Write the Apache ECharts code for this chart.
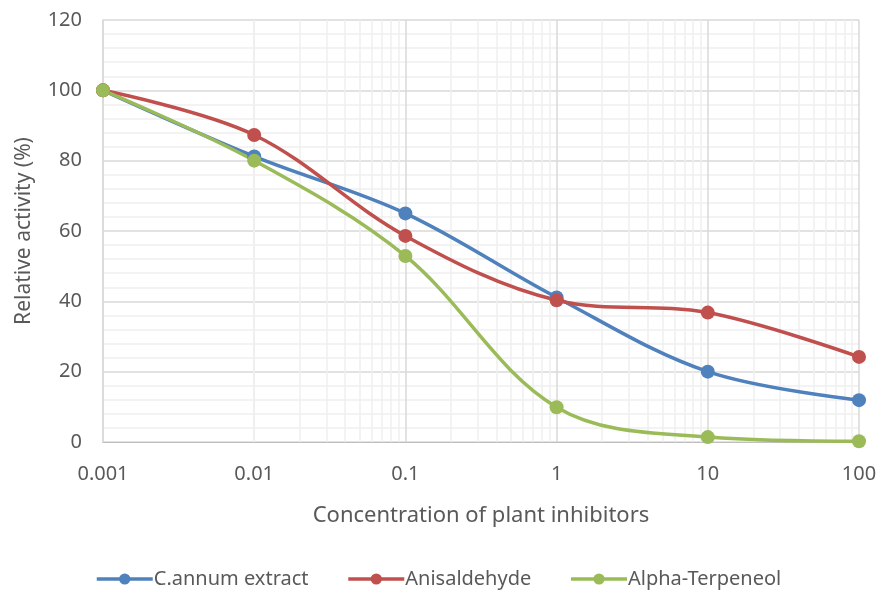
<!DOCTYPE html>
<html><head><meta charset="utf-8">
<script src="https://cdn.jsdelivr.net/npm/echarts@6/dist/echarts.min.js"></script>
<style>html,body{margin:0;padding:0;background:#fff}#c{width:878px;height:594px}</style>
</head><body><div id="c"></div>
<script>
const concentrations = [0.001, 0.01, 0.1, 1, 10, 100];
const xTickLabels = ['0.001', '0.01', '0.1', '1', '10', '100'];
const cannum = [100, 81.2, 65.0, 41.1, 20.0, 11.9];
const anisaldehyde = [100, 87.3, 58.6, 40.3, 36.8, 24.2];
const alphaTerpeneol = [100, 80.0, 52.9, 9.9, 1.4, 0.2];
const seriesNames = ['C.annum extract', 'Anisaldehyde', 'Alpha-Terpeneol'];
const colors = ['#4f81bd', '#c0504d', '#9bbb59'];
const minorX = [];
for (let d = 0; d < 5; d++) for (let m = 2; m <= 9; m++) minorX.push(+(m * Math.pow(10, d - 3)).toPrecision(3));

const font = 'Noto Sans';
function mk(name, vals, color) {
  return {
    name, type: 'line', smooth: 0.35, z: 3,
    data: concentrations.map((c, i) => [c, vals[i]]),
    symbol: 'circle', symbolSize: 14,
    lineStyle: { width: 3.5, color }, itemStyle: { color }
  };
}
const chart = echarts.init(document.getElementById('c'));
chart.setOption({
  animation: false,
  color: colors,
  textStyle: { fontFamily: font },
  grid: { left: 103, right: 19, top: 20, bottom: 152, containLabel: false, outerBoundsMode: 'none' },
  legend: {
    bottom: 0, left: 90, itemGap: 38, itemWidth: 56, itemHeight: 14,
    lineStyle: { width: 3.5 },
    textStyle: { fontFamily: font, fontSize: 20, color: '#595959', padding: [0, 0, 0, -4] },
    data: seriesNames
  },
  xAxis: {
    type: 'log', logBase: 10, min: 0.001, max: 100,
    name: 'Concentration of plant inhibitors', nameLocation: 'middle', nameGap: 63,
    nameTextStyle: { fontFamily: font, fontSize: 22, color: '#595959' },
    axisLine: { show: true, lineStyle: { color: '#bfbfbf', width: 1 } },
    axisTick: { show: false },
    axisLabel: { fontFamily: font, fontSize: 20, color: '#595959', margin: 22,
      formatter: v => { const i = concentrations.findIndex(c => Math.abs(Math.log10(c) - Math.log10(v)) < 1e-6); return i >= 0 ? xTickLabels[i] : ''; } },
    splitLine: { show: true, lineStyle: { color: '#d9d9d9', width: 1.5 } }
  },
  yAxis: {
    type: 'value', min: 0, max: 120, interval: 20,
    name: 'Relative activity (%)', nameLocation: 'middle', nameGap: 68,
    nameTextStyle: { fontFamily: font, fontSize: 21, color: '#595959' },
    axisLine: { show: true, lineStyle: { color: '#d9d9d9', width: 1.5 } },
    axisTick: { show: false },
    axisLabel: { fontFamily: font, fontSize: 20, color: '#595959', margin: 21 },
    splitLine: { show: true, lineStyle: { color: '#d9d9d9', width: 1.5 } },
    minorTick: { show: false, splitNumber: 5 },
    minorSplitLine: { show: true, lineStyle: { color: '#efefef', width: 1.5 } }
  },
  series: [
    mk(seriesNames[0], cannum, colors[0]),
    mk(seriesNames[1], anisaldehyde, colors[1]),
    mk(seriesNames[2], alphaTerpeneol, colors[2]),
    {
      type: 'line', data: [], z: 1, silent: true,
      markLine: {
        z: 1, silent: true, symbol: 'none', label: { show: false }, animation: false,
        lineStyle: { color: '#efefef', width: 1.5, type: 'solid' },
        emphasis: { disabled: true },
        data: minorX.map(v => ({ xAxis: v }))
      }
    }
  ]
});
</script></body></html>
